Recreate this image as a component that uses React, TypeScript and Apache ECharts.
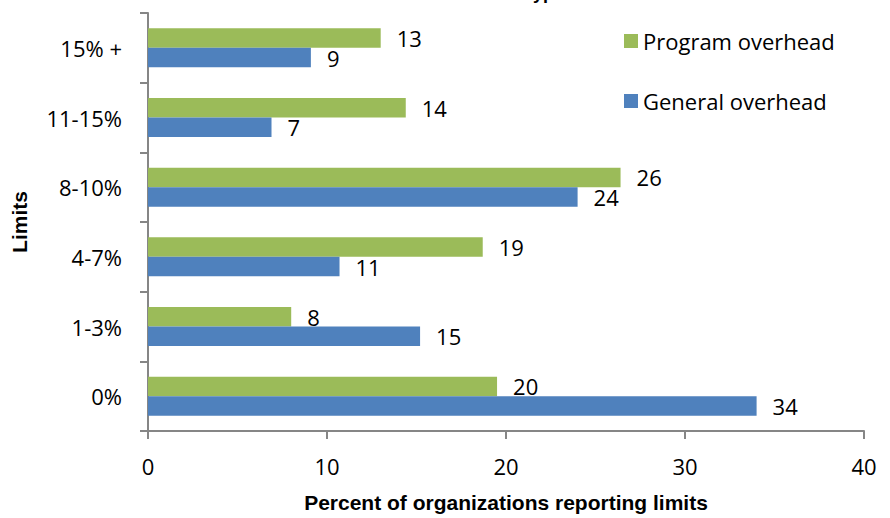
import React, { useEffect, useRef } from "react";
import * as echarts from "echarts";

const categories = ["0%", "1-3%", "4-7%", "8-10%", "11-15%", "15% +"];
const programOverhead = [19.5, 8.0, 18.7, 26.4, 14.4, 13.0];
const generalOverhead = [34.0, 15.2, 10.7, 24.0, 6.9, 9.1];
const xTicks = [0, 10, 20, 30, 40];

const FONT = "'Open Sans', 'Noto Sans', sans-serif";
const BOLD = "'Liberation Sans', Arial, sans-serif";

export default function App() {
  const ref = useRef<HTMLDivElement>(null);
  useEffect(() => {
    document.body.style.margin = "0";
    const chart = echarts.init(ref.current!, null, { renderer: "svg" });
    const label = {
      show: true,
      position: "right",
      distance: 16,
      fontFamily: FONT,
      fontSize: 22,
      color: "#000",
      formatter: (p: any) => String(Math.round(p.value)),
    };
    chart.setOption({
      animation: false,
      backgroundColor: "#fff",
      grid: { left: 148, right: 26, top: 13, bottom: 81, containLabel: false },
      graphic: [
        {
          type: "text",
          left: 397,
          top: -16,
          style: {
            text: "Overhead limit types",
            font: `bold 18px ${BOLD}`,
            fill: "#000",
          },
        },
      ],
      legend: {
        orient: "vertical",
        left: 619,
        top: 25,
        itemWidth: 14,
        itemHeight: 14,
        itemGap: 38,
        icon: "rect",
        data: ["Program overhead", "General overhead"],
        textStyle: { fontFamily: FONT, fontSize: 22, color: "#000" },
      },
      xAxis: {
        type: "value",
        min: xTicks[0],
        max: xTicks[xTicks.length - 1],
        interval: 10,
        name: "Percent of organizations reporting limits",
        nameLocation: "middle",
        nameGap: 61,
        nameTextStyle: { fontFamily: BOLD, fontWeight: "bold", fontSize: 21, color: "#000" },
        axisLine: { show: true, lineStyle: { color: "#868686", width: 2 } },
        axisTick: { show: true, length: 8, lineStyle: { color: "#868686", width: 2 } },
        splitLine: { show: false },
        axisLabel: { fontFamily: FONT, fontSize: 22, color: "#000", margin: 24 },
      },
      yAxis: {
        type: "category",
        data: categories,
        name: "Limits",
        nameLocation: "middle",
        nameRotate: 90,
        nameGap: 118,
        nameTextStyle: { fontFamily: BOLD, fontWeight: "bold", fontSize: 21, color: "#000" },
        axisLine: { show: true, lineStyle: { color: "#868686", width: 2 } },
        axisTick: { show: true, length: 8, lineStyle: { color: "#868686", width: 2 } },
        axisLabel: { fontFamily: FONT, fontSize: 22, color: "#000", margin: 26 },
      },
      series: [
        {
          name: "Program overhead",
          type: "bar",
          data: programOverhead,
          barGap: "0%",
          barCategoryGap: "44%",
          itemStyle: { color: "#9BBB59" },
          label,
        },
        {
          name: "General overhead",
          type: "bar",
          data: generalOverhead,
          barGap: "0%",
          barCategoryGap: "44%",
          itemStyle: { color: "#4F81BD" },
          label,
        },
      ],
    });
    return () => chart.dispose();
  }, []);
  return (
    <div
      ref={ref}
      style={{ position: "fixed", left: 0, top: 0, width: 890, height: 518 }}
    />
  );
}
